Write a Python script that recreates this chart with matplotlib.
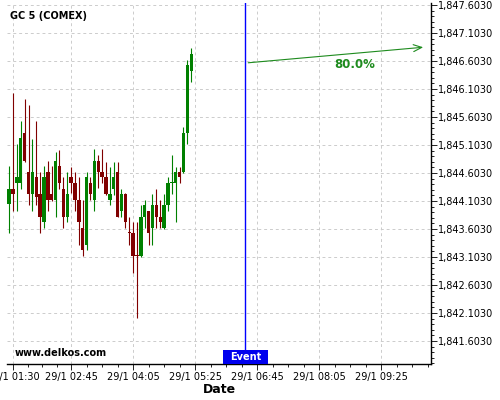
import matplotlib
matplotlib.use("Agg")
import matplotlib.pyplot as plt
import matplotlib.dates as mdates
import matplotlib.ticker as mticker
from matplotlib.patches import Rectangle
import numpy as np
import pandas as pd

# 5 minute candles, 29/1 01:25 -> 05:20
times = pd.date_range("2021-01-29 01:25", periods=48, freq="5min")
opens = [1844.05, 1844.32, 1844.42, 1844.42, 1845.32, 1844.62, 1844.23, 1844.53, 1844.23, 1843.73,
         1844.62, 1844.23, 1844.12, 1844.73, 1844.32, 1843.82, 1844.53, 1844.42, 1844.12, 1843.62,
         1843.32, 1844.42, 1844.12, 1844.82, 1844.62, 1844.53, 1844.12, 1844.32, 1844.62, 1843.92,
         1844.23, 1843.55, 1843.53, 1843.14, 1843.12, 1843.82, 1843.92, 1843.62, 1844.03, 1843.82,
         1843.62, 1844.03, 1844.42, 1844.42, 1844.62, 1844.62, 1845.32, 1846.42]
highs = [1844.73, 1846.03, 1845.12, 1845.53, 1845.92, 1845.82, 1845.21, 1845.53, 1844.62, 1844.73,
         1844.82, 1844.73, 1844.98, 1845.01, 1844.53, 1844.62, 1844.71, 1844.62, 1844.53, 1844.12,
         1844.62, 1844.53, 1845.03, 1844.92, 1845.03, 1844.80, 1844.71, 1844.80, 1844.80, 1844.32,
         1844.24, 1843.82, 1843.73, 1843.73, 1844.03, 1844.12, 1843.93, 1844.23, 1844.32, 1844.12,
         1844.23, 1844.53, 1844.92, 1844.71, 1844.71, 1845.42, 1846.62, 1846.83]
lows = [1843.53, 1843.92, 1843.92, 1844.32, 1844.80, 1844.03, 1843.92, 1844.03, 1843.53, 1843.62,
        1843.92, 1844.11, 1843.82, 1844.32, 1843.62, 1843.73, 1844.25, 1843.92, 1843.32, 1843.12,
        1843.23, 1844.12, 1843.92, 1844.34, 1844.42, 1844.21, 1844.03, 1844.21, 1843.81, 1843.82,
        1843.62, 1843.32, 1842.82, 1842.01, 1843.11, 1843.62, 1843.32, 1843.32, 1843.62, 1843.62,
        1843.61, 1843.92, 1844.23, 1843.73, 1844.42, 1844.61, 1845.12, 1846.23]
closes = [1844.32, 1844.23, 1844.53, 1845.23, 1844.82, 1844.23, 1844.62, 1844.17, 1843.82, 1844.53,
          1844.12, 1844.12, 1844.82, 1844.42, 1843.82, 1844.23, 1844.42, 1844.12, 1843.73, 1843.23,
          1844.53, 1844.23, 1844.82, 1844.62, 1844.53, 1844.23, 1844.23, 1844.53, 1843.82, 1844.23,
          1843.73, 1843.53, 1843.12, 1843.12, 1843.82, 1844.03, 1843.53, 1844.03, 1843.82, 1843.73,
          1844.03, 1844.42, 1844.44, 1844.62, 1844.53, 1845.32, 1846.53, 1846.73]

tick_times = ["01:30", "02:45", "04:05", "05:25", "06:45", "08:05", "09:25"]
tick_labels = ["29/1 " + t for t in tick_times]

event_time = pd.Timestamp("2021-01-29 06:30")
arrow_end_time = pd.Timestamp("2021-01-29 10:23")
arrow_start_price = 1846.567
arrow_end_price = 1846.853
prob_label = "80.0%"

x = mdates.date2num(times)
o = np.array(opens); h = np.array(highs); l = np.array(lows); c = np.array(closes)
up = c >= o
cols = np.where(up, "#008000", "#800000")

fig = plt.figure(figsize=(5, 4), dpi=100)
ax = fig.add_axes([0.014, 0.09, 0.848, 0.9025])

ax.vlines(x, l, h, colors=cols, lw=0.8, zorder=3)
body_h = np.maximum(np.abs(c - o), 0.018)
ax.bar(x, body_h, bottom=np.minimum(o, c), width=4.3 / 1440, color=cols, zorder=4, linewidth=0)

ax.set_xlim(mdates.date2num(pd.Timestamp("2021-01-29 01:22:15")),
            mdates.date2num(pd.Timestamp("2021-01-29 10:29:30")))
ax.set_ylim(1841.192, 1847.639)

major = mdates.date2num(pd.to_datetime(["2021-01-29 " + t for t in tick_times]))
ax.xaxis.set_major_locator(mticker.FixedLocator(major))
ax.xaxis.set_major_formatter(mticker.FixedFormatter(tick_labels))
minor = []
for a, b in zip(major[:-1], major[1:]):
    minor += list(np.linspace(a, b, 5)[1:-1])
step = 20 / 1440
minor += [major[-1] + step * k for k in (1, 2, 3)]
ax.xaxis.set_minor_locator(mticker.FixedLocator(minor))

ax.yaxis.tick_right()
ax.yaxis.set_major_locator(mticker.MultipleLocator(0.5, offset=0.103))
ax.yaxis.set_minor_locator(mticker.MultipleLocator(0.1, offset=0.003))
ax.yaxis.set_major_formatter(mticker.FuncFormatter(lambda v, p: f"{v:,.4f}"))

ax.tick_params(axis="both", which="major", labelsize=7, length=4, width=0.6, pad=1.5)
ax.tick_params(axis="both", which="minor", length=2, width=0.6)
ax.tick_params(axis="y", which="major", pad=1)

for s in ("left", "top"):
    ax.spines[s].set_visible(False)
ax.spines["bottom"].set_linewidth(1)
ax.spines["right"].set_linewidth(1)

ax.grid(True, which="major", color="#cccccc", lw=0.7, linestyle=(0, (3, 3)))
ax.set_axisbelow(True)

# event marker
ax.axvline(event_time, color="#0000ff", lw=1.0, zorder=5)
ev = mdates.date2num(event_time)
box_w = 57 / 1440
ax.add_patch(Rectangle((ev - box_w / 2, 0), box_w, 0.0388, transform=ax.get_xaxis_transform(),
                       facecolor="#0000ee", edgecolor="none", zorder=6, clip_on=False))
ax.text(ev, 0.0194, "Event", transform=ax.get_xaxis_transform(), ha="center", va="center",
        color="white", fontsize=7, fontweight="bold", zorder=7)

ax.annotate("", xy=(arrow_end_time, arrow_end_price), xytext=(event_time, arrow_start_price),
            arrowprops=dict(arrowstyle="->,head_length=0.6,head_width=0.25", color="#1e8b1e", lw=0.8),
            zorder=6)
ax.text(pd.Timestamp("2021-01-29 08:51"), 1846.549, prob_label, color="#1e8b1e",
        fontsize=8.5, fontweight="bold", ha="center", va="center")

ax.text(0.008, 0.965, "GC 5 (COMEX)", transform=ax.transAxes, fontsize=7, fontweight="bold",
        ha="left", va="center")
ax.text(0.019, 0.03, "www.delkos.com", transform=ax.transAxes, fontsize=7, fontweight="bold",
        ha="left", va="center")
ax.set_xlabel("Date", fontsize=9, fontweight="bold", labelpad=1)

fig.savefig("out.png", dpi=100)
